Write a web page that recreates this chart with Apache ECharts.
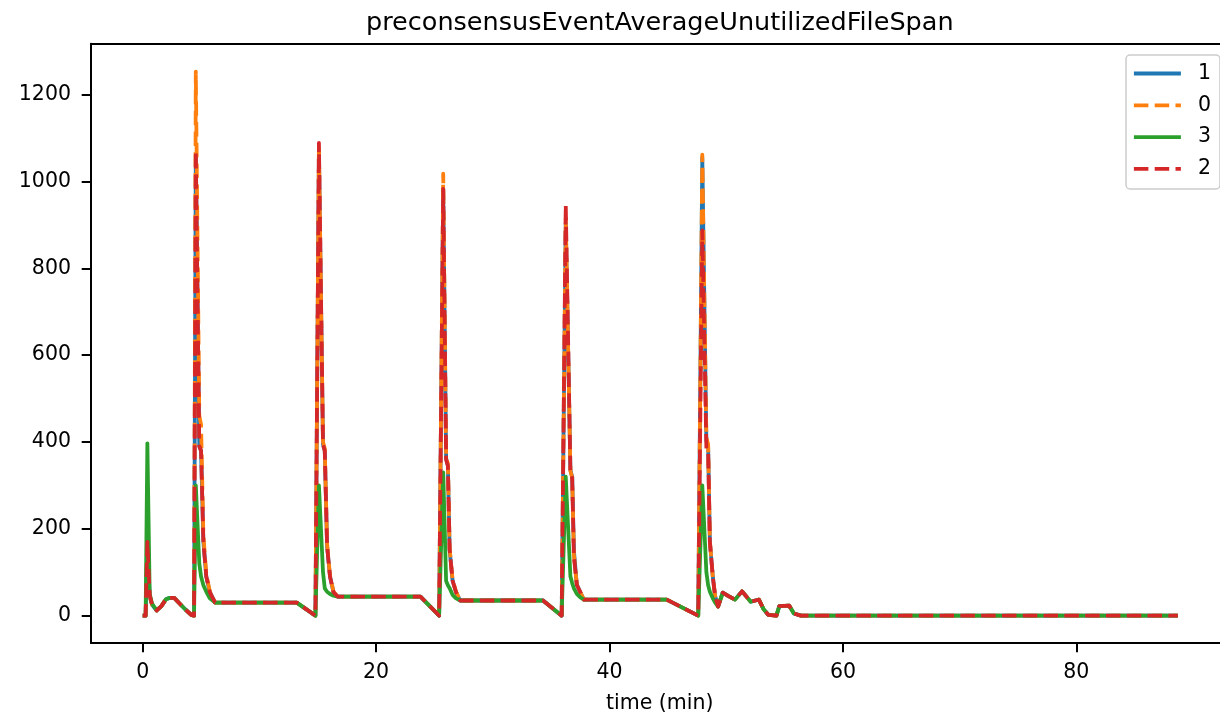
<!DOCTYPE html>
<html>
<head>
<meta charset="utf-8">
<script src="https://cdn.jsdelivr.net/npm/echarts@6/dist/echarts.min.js"></script>
<style>
html,body{margin:0;padding:0;background:#fff;overflow:hidden;}
#chart{width:1220px;height:718px;overflow:hidden;}
</style>
</head>
<body>
<div id="chart"></div>
<script>
// time in minutes (shared by all series)
const timeMin = [
  0.0, 0.25, 0.4, 0.6, 0.8, 1.2, 1.6, 2.0, 2.3, 2.7, 3.2, 3.7, 4.2, 4.4,
  4.55, 4.85, 5.0, 5.2, 5.45, 5.75, 6.2, 13.2, 14.8,
  14.95, 15.1, 15.45, 15.6, 15.8, 16.05, 16.35, 16.7, 23.8, 25.4,
  25.55, 25.75, 26.0, 26.15, 26.3, 26.55, 26.85, 27.2, 34.3, 35.9,
  36.05, 36.25, 36.65, 36.8, 36.95, 37.2, 37.5, 37.8, 44.9, 47.6,
  47.75, 47.95, 48.3, 48.45, 48.6, 48.85, 49.05, 49.3, 49.7, 50.2, 50.75,
  51.35, 51.7, 52.1, 52.5, 52.8, 53.2, 53.6, 54.3, 54.55, 55.4, 55.8, 56.4, 88.7
];
// series "1"
const s1 = [
  0, 0, 165, 45, 25, 12, 22, 38, 41, 41, 27, 13, 1, 0,
  1060, 390, 380, 170, 90, 54, 30, 30, 0,
  0, 1070, 395, 380, 160, 90, 54, 44, 44, 0,
  0, 985, 362, 345, 152, 81, 54, 35, 35, 0,
  0, 905, 335, 320, 150, 71, 54, 37, 37, 0,
  0, 1055, 403, 390, 170, 90, 45, 21, 53, 45, 37,
  56, 45, 32, 35, 37, 15, 2, 0, 22, 23, 5, 0, 0
];
// series "0"
const s0 = [
  0, 0, 168, 45, 25, 12, 22, 38, 41, 41, 27, 13, 1, 0,
  1253, 460, 440, 185, 95, 56, 30, 30, 0,
  0, 1085, 400, 385, 165, 92, 55, 44, 44, 0,
  0, 1018, 365, 350, 155, 83, 55, 35, 35, 0,
  0, 915, 333, 318, 140, 71, 54, 37, 37, 0,
  0, 1062, 410, 395, 172, 90, 45, 21, 53, 45, 37,
  56, 45, 32, 35, 37, 15, 2, 0, 22, 23, 5, 0, 0
];
// series "3"
const s3 = [
  0, 0, 397, 50, 28, 12, 22, 38, 41, 41, 27, 13, 1, 0,
  300, 120, 90, 70, 55, 40, 30, 30, 0,
  0, 300, 100, 63, 55, 50, 46, 44, 44, 0,
  0, 330, 80, 70, 63, 48, 40, 35, 35, 0,
  0, 320, 90, 75, 63, 50, 42, 37, 37, 0,
  0, 300, 100, 70, 55, 40, 30, 21, 53, 45, 37,
  56, 45, 32, 35, 37, 15, 2, 0, 22, 23, 5, 0, 0
];
// series "2"
const s2 = [
  0, 0, 170, 48, 25, 12, 22, 38, 41, 41, 27, 13, 1, 0,
  1071, 390, 380, 170, 90, 54, 30, 30, 0,
  0, 1089, 394, 380, 160, 90, 54, 44, 44, 0,
  0, 983, 359, 345, 152, 81, 54, 35, 35, 0,
  0, 946, 331, 318, 135, 71, 54, 37, 37, 0,
  0, 887, 385, 380, 170, 90, 45, 21, 53, 45, 37,
  56, 45, 32, 35, 37, 15, 2, 0, 22, 23, 5, 0, 0
];
const seriesNames = ['1', '0', '3', '2'];
const xTicks = [0, 20, 40, 60, 80];
const yTicks = [0, 200, 400, 600, 800, 1000, 1200];

const FONT = 'DejaVu Sans';
const LW = 3.8;
const DASH = [14.5, 6.3];
const SPINE = 2;
const colors = ['#1f77b4', '#ff7f0e', '#2ca02c', '#d62728'];
const dashed = [false, true, false, true];
const values = [s1, s0, s3, s2];

function pairs(v) { return timeMin.map((t, i) => [t, v[i]]); }

const chart = echarts.init(document.getElementById('chart'), null, {renderer: 'canvas', width: 1220, height: 718});
chart.setOption({
  animation: false,
  backgroundColor: '#fff',
  title: {
    text: 'preconsensusEventAverageUnutilizedFileSpan',
    left: 366, top: 10, padding: 0,
    textStyle: {fontFamily: FONT, fontSize: 25.5, fontWeight: 'normal', color: '#000'}
  },
  grid: {
    left: 91, top: 43.8, width: 1137.4, height: 599.1,
    outerBoundsMode: 'none', containLabel: false, show: false
  },
  legend: {
    orient: 'vertical', left: 1126, top: 55,
    data: seriesNames,
    itemWidth: 47, itemHeight: 14, itemGap: 10.8,
    padding: [8, 9, 9.6, 6],
    backgroundColor: 'rgba(255,255,255,0.8)',
    borderColor: '#cccccc', borderWidth: 1.5, borderRadius: 4,
    itemStyle: {opacity: 0},
    lineStyle: {width: LW},
    textStyle: {fontFamily: FONT, fontSize: 20.5, color: '#000', padding: [0, 0, 0, 12]}
  },
  xAxis: [{
    type: 'value', min: -4.43, max: 93.03,
    name: 'time (min)', nameLocation: 'middle', nameGap: 50,
    nameTextStyle: {fontFamily: FONT, fontSize: 20.5, color: '#000'},
    axisLine: {show: true, onZero: false, lineStyle: {color: '#000', width: SPINE}},
    axisTick: {show: true, length: 9.3, lineStyle: {color: '#000', width: SPINE}, customValues: xTicks},
    axisLabel: {fontFamily: FONT, fontSize: 20.5, color: '#000', margin: 19, customValues: xTicks,
      formatter: v => String(v)},
    splitLine: {show: false}
  }, {
    type: 'value', position: 'top', min: -4.43, max: 93.03,
    axisLine: {show: true, onZero: false, lineStyle: {color: '#000', width: SPINE}},
    axisTick: {show: false}, axisLabel: {show: false}, splitLine: {show: false}
  }],
  yAxis: {
    type: 'value', min: -62.7, max: 1317,
    axisLine: {show: true, onZero: false, lineStyle: {color: '#000', width: SPINE}},
    axisTick: {show: true, length: 9.3, lineStyle: {color: '#000', width: SPINE}, customValues: yTicks},
    axisLabel: {fontFamily: FONT, fontSize: 20.5, color: '#000', margin: 20, customValues: yTicks,
      formatter: v => String(v)},
    splitLine: {show: false}
  },
  series: seriesNames.map((n, i) => ({
    name: n, type: 'line', data: pairs(values[i]), xAxisIndex: 0,
    showSymbol: false, symbol: 'none', clip: true,
    color: colors[i],
    lineStyle: {color: colors[i], width: LW, type: dashed[i] ? DASH : 'solid', cap: 'butt', join: 'round'}
  }))
});
</script>
</body>
</html>
